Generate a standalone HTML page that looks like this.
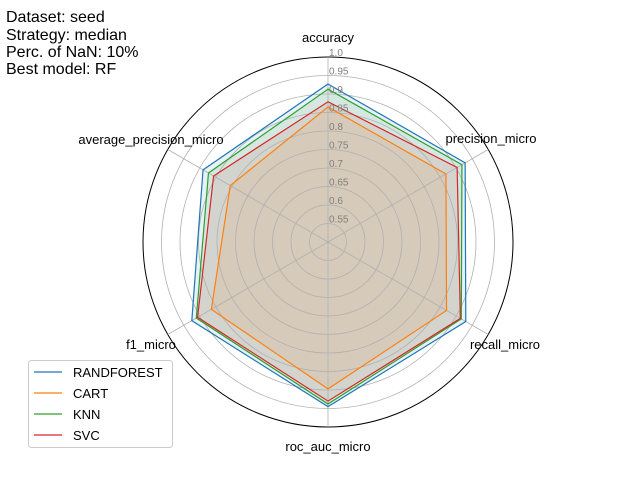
<!DOCTYPE html>
<html><head><meta charset="utf-8"><style>
body{margin:0;background:#fff;}
svg{display:block;font-family:"Liberation Sans","DejaVu Sans",sans-serif;}
</style></head><body>
<svg id="chart" width="640" height="480" viewBox="0 0 640 480">
<g id="series"></g>
<g id="grid"></g>
<g id="lines"></g>
<g id="ticks"></g>
<g id="labels"></g>
<g font-size="16" fill="#000">
<text x="6" y="22">Dataset: seed</text>
<text x="6" y="40">Strategy: median</text>
<text x="6" y="57">Perc. of NaN: 10%</text>
<text x="6" y="74">Best model: RF</text>
</g>
<g id="legend"></g>
</svg>
<script>
const categories = ["accuracy","precision_micro","recall_micro","roc_auc_micro","f1_micro","average_precision_micro"];
const seriesNames = ["RANDFOREST","CART","KNN","SVC"];
const rfValues = [0.927,0.928,0.93,0.945,0.925,0.89];
const cartValues = [0.865,0.868,0.87,0.897,0.864,0.805];
const knnValues = [0.913,0.918,0.916,0.938,0.911,0.873];
const svcValues = [0.879,0.903,0.913,0.93,0.907,0.857];
const tickLabels = ["0.55","0.6","0.65","0.7","0.75","0.8","0.85","0.9","0.95","1.0"];
const colors = ["#1f77b4","#ff7f0e","#2ca02c","#d62728"];
const allValues = [rfValues,cartValues,knnValues,svcValues];
const NS="http://www.w3.org/2000/svg";
const cx=328, cy=242, R=185, vmin=0.5, vmax=1.0;
function rScale(v){return (v-vmin)/(vmax-vmin)*R;}
function ang(i){return -Math.PI/2 + i*2*Math.PI/categories.length;}
function pt(i,v){const r=rScale(v),a=ang(i);return [cx+r*Math.cos(a), cy+r*Math.sin(a)];}
function mk(tag,attrs,parent){const e=document.createElementNS(NS,tag);for(const k in attrs)e.setAttribute(k,attrs[k]);parent.appendChild(e);return e;}
const grid=document.getElementById('grid');
tickLabels.forEach((t,k)=>{
  const v=parseFloat(t);
  const c=mk('circle',{cx:cx,cy:cy,r:rScale(v),fill:'none',stroke:v>=1?'#000':'#b0b0b0','stroke-width':v>=1?1:0.8},grid);
  
  
});
categories.forEach((c,i)=>{
  const p=pt(i,vmax);
  const l=mk('line',{x1:cx,y1:cy,x2:p[0],y2:p[1],stroke:'#b0b0b0','stroke-width':0.8},grid);
  
  
});
const ser=document.getElementById('series');
const lines=document.getElementById('lines');
allValues.forEach((vals,s)=>{
  const pts=vals.map((v,i)=>pt(i,v).join(',')).join(' ');
  const pg=mk('polygon',{points:pts,fill:colors[s],'fill-opacity':0.1,stroke:'none'},ser);
  
  
  const pl=mk('polygon',{points:pts,fill:'none',stroke:colors[s],'stroke-width':1.2},lines);
  
  
});
const ticks=document.getElementById('ticks');
tickLabels.forEach((t)=>{
  const v=parseFloat(t);
  const tx=mk('text',{x:cx+1,y:cy-rScale(v)-1,'font-size':10,fill:'#808080'},ticks);
  tx.textContent=t;
  
  
});
const lab=document.getElementById('labels');
const labelPos=[[328,42,'middle'],[491,143,'middle'],[505,349,'middle'],[328,451,'middle'],[151,349,'middle'],[151,144,'middle']];
categories.forEach((c,i)=>{
  const t=mk('text',{x:labelPos[i][0],y:labelPos[i][1],'text-anchor':labelPos[i][2],'font-size':13,fill:'#000'},lab);
  t.textContent=c;
  
  
});
const leg=document.getElementById('legend');
const box=mk('rect',{x:28.5,y:360.5,width:144,height:87,rx:3,fill:'#fff','fill-opacity':0.8,stroke:'#ccc'},leg);


seriesNames.forEach((n,s)=>{
  const y=372+s*21;
  const l=mk('line',{x1:34,y1:y,x2:62,y2:y,stroke:colors[s],'stroke-width':1.2},leg);
  
  
  const t=mk('text',{x:73,y:y+5,'font-size':13,fill:'#000'},leg);
  t.textContent=n;
  
  
});
</script>
</body></html>
